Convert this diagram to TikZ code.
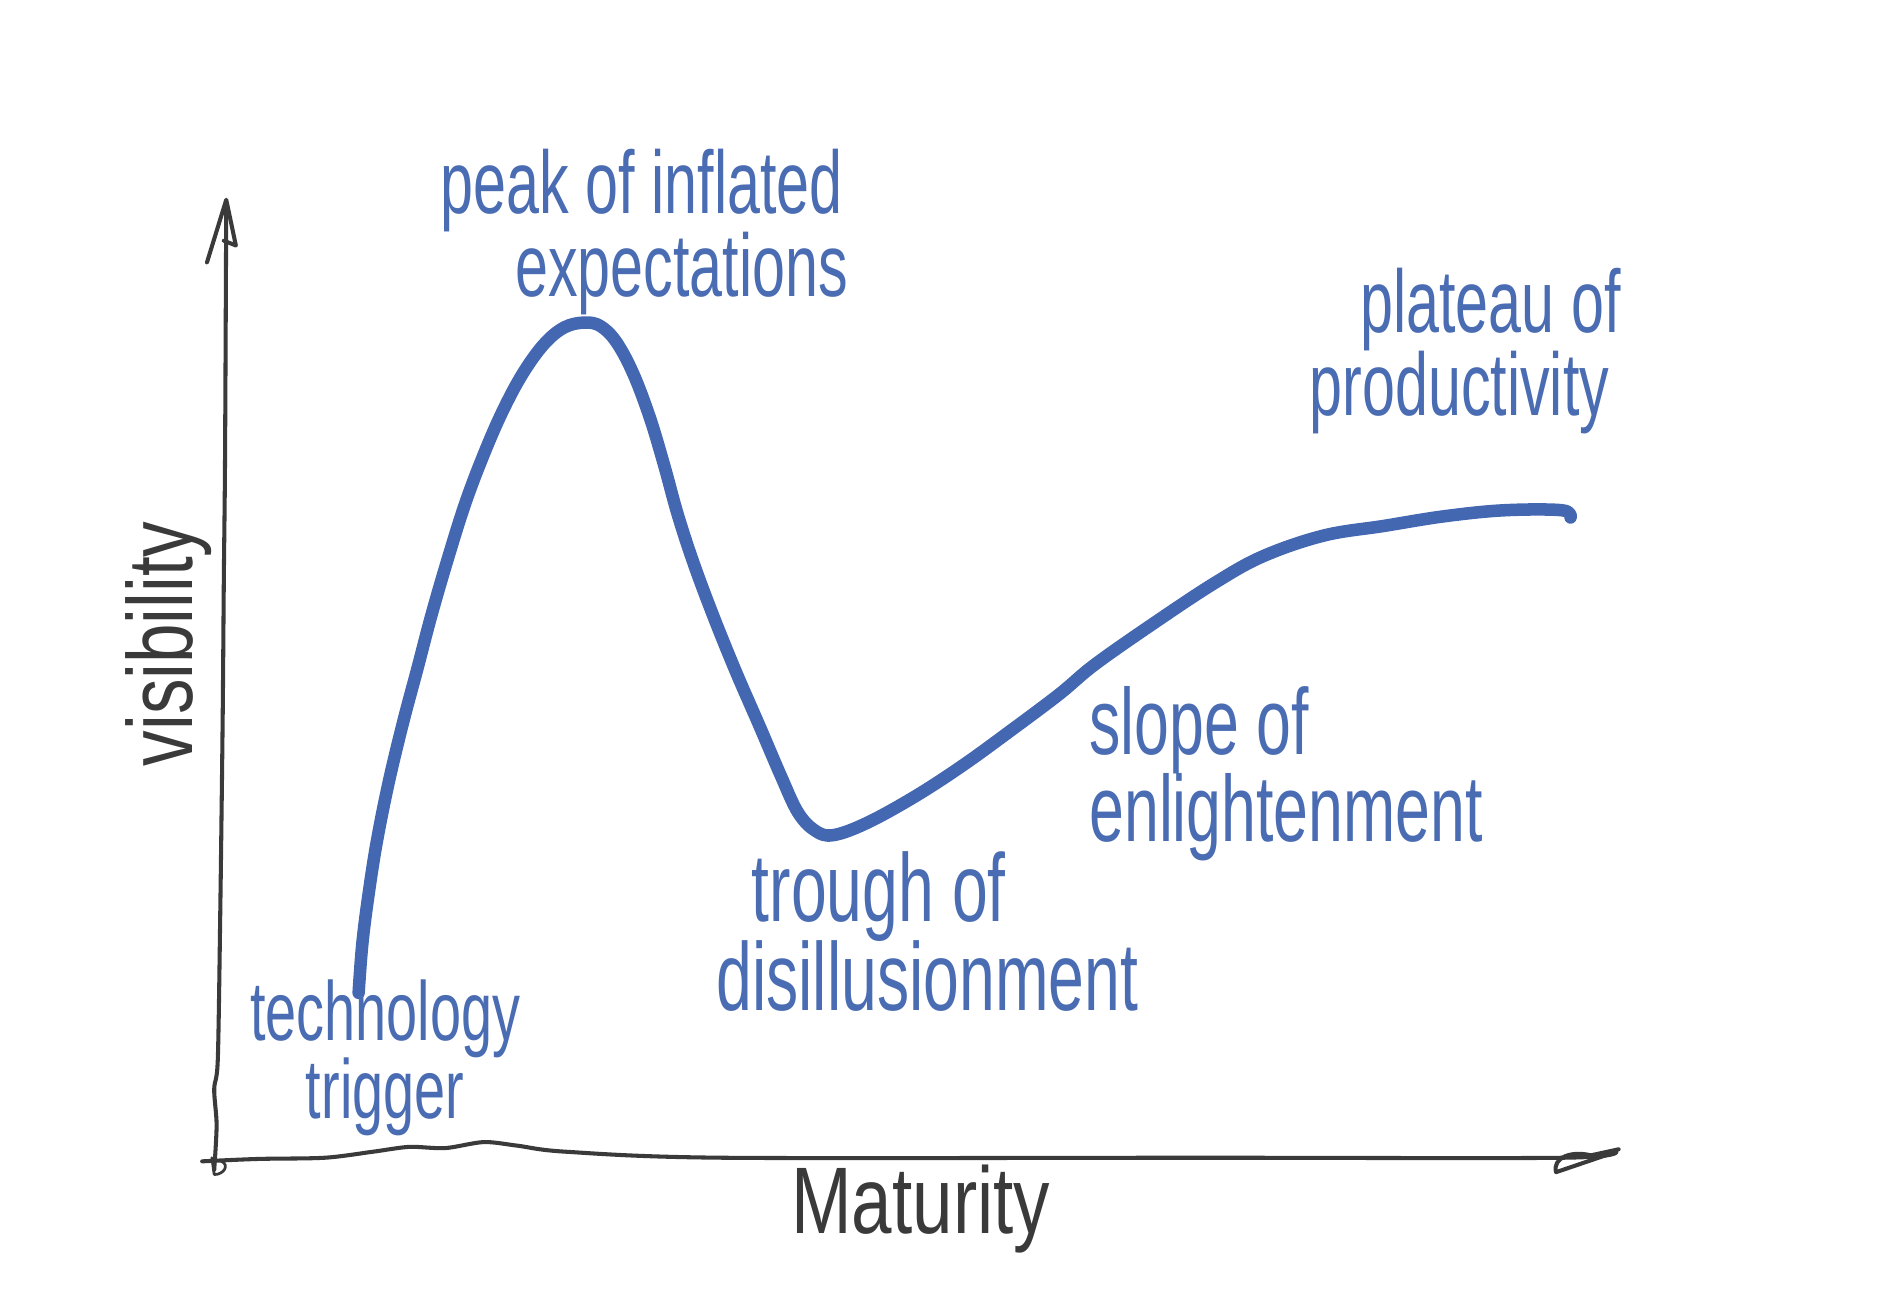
\documentclass[tikz,border=0pt]{standalone}
\usepackage{fontspec}
\setmainfont{Liberation Sans}
\usepackage{graphicx}
\definecolor{hblue}{HTML}{4467B2}
\definecolor{tblue}{HTML}{4A6CB3}
\definecolor{pen}{HTML}{3A3A3A}
\tikzset{
  curve/.style={draw=hblue, line width=7.4pt, line cap=round, line join=round},
  axisline/.style={draw=pen, line width=2.4pt, line cap=round, line join=round},
  tiplabel/.style={text=tblue, inner sep=0pt},
  axislabel/.style={text=pen, inner sep=0pt}
}
\begin{document}
\begin{tikzpicture}[x=0.025cm, y=-0.025cm]
\useasboundingbox (0,0) rectangle (1568,1093);

% axes
\draw[axisline] plot[smooth, tension=0.5] coordinates {(178,972) (180,935) (178,905) (181,880) (183,760) (185,600) (186,480) (187,380) (188,168)};
\draw[axisline] (172,218) -- (188,166) -- (196,204) -- (186,200);
\draw[axisline] plot[smooth, tension=0.5] coordinates {(168,965) (215,963) (270,962) (310,957) (340,953) (370,954) (402,949) (430,952) (470,957) (600,962) (1000,962) (1300,962) (1343,957)};
\draw[axisline] (1343,957) -- (1293,974) .. controls (1290,962) and (1305,956) .. (1322,960) -- (1345,955);
\draw[axisline, line width=1.6pt] (176,962) -- (178,976) .. controls (186,976) and (191,968) .. (184,965);

% hype curve
\draw[curve] plot[smooth, tension=0.6] coordinates {(298,825) (301,785) (306,745) (313,700) (323,650) (335,600) (347,555) (358,513) (371,468) (386,420) (401,380) (417,343) (434,311) (452,286) (469,272) (486,268) (499,271) (512,284) (526,310) (540,347) (552,387) (563,427) (576,467) (592,510) (611,557) (631,603) (649,645) (663,675) (677,690) (692,694) (720,684) (760,662) (800,636) (840,607) (880,577) (910,552) (960,517) (1010,484) (1050,462) (1100,445) (1150,437) (1200,429) (1250,424) (1298,424) (1305,430)};

% labels
\node[tiplabel, anchor=west] (peak) at (366,193) {\scalebox{1}[1.5]{\fontsize{35}{20}\selectfont\begin{tabular}{@{}l@{}}peak of inflated\\\hspace*{44pt}expectations\end{tabular}}};
\node[tiplabel, anchor=west] (plateau) at (1088,292) {\scalebox{1}[1.5]{\fontsize{35}{20}\selectfont\begin{tabular}{@{}l@{}}\hspace*{30pt}plateau of\\productivity\end{tabular}}};
\node[tiplabel, anchor=west] (slope) at (905,643) {\scalebox{1}[1.5]{\fontsize{37}{20}\selectfont\begin{tabular}{@{}l@{}}slope of\\enlightenment\end{tabular}}};
\node[tiplabel, anchor=west] (trough) at (595,780) {\scalebox{1}[1.5]{\fontsize{38}{20}\selectfont\begin{tabular}{@{}l@{}}\hspace*{21pt}trough of\\disillusionment\end{tabular}}};
\node[tiplabel] (trigger) at (320,879) {\scalebox{1}[1.5]{\fontsize{33}{20}\selectfont\begin{tabular}{@{}c@{}}technology\\trigger\end{tabular}}};
\node[axislabel, rotate=90] (vis) at (140,535) {\scalebox{1}[1.3]{\fontsize{42}{42}\selectfont visibility}};
\node[axislabel] (mat) at (765,1005) {\scalebox{1}[1.3]{\fontsize{43}{43}\selectfont Maturity}};
\end{tikzpicture}
\end{document}
